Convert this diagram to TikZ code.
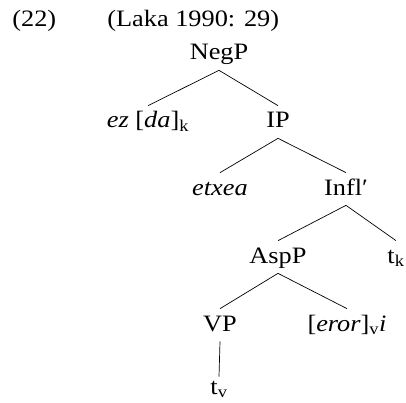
\documentclass[tikz,border=0pt]{standalone}
\usepackage{fontspec}
\setmainfont{Liberation Serif}[FakeStretch=1.12]
\begin{document}
\begin{tikzpicture}[x=1pt,y=-1pt,font=\fontsize{23.5}{28}\selectfont,line width=0.7pt,
  cat/.style={anchor=base,inner xsep=0pt,inner ysep=5pt,text height=17pt,text depth=5pt}]
\useasboundingbox (0,0) rectangle (406,403);
% heading
\node (exno) [anchor=base west,inner sep=0pt] at (12,27) {(22)};
\node (src) [anchor=base west,inner sep=0pt] at (107,27) {(Laka 1990: 29)};
% tree
\node (negp) [cat] at (219,60) {NegP};
\node (ezda) [cat] at (148,128) {\textit{ez} [\textit{da}]\textsubscript{k}};
\node (ip) [cat] at (278,128) {IP};
\node (etxea) [cat] at (220,195) {\textit{etxea}};
\node (infl) [cat] at (346,195) {Infl′};
\node (aspp) [cat] at (278,263) {AspP};
\node (tk) [cat] at (396,263) {t\textsubscript{k}};
\node (vp) [cat] at (220,331) {VP};
\node (eror) [cat] at (347,331) {[\textit{eror}]\textsubscript{v}\textit{i}};
\node (tv) [cat,text height=12pt] at (219,394) {t\textsubscript{v}};
\draw (negp.south) -- (ezda.north);
\draw (negp.south) -- (ip.north);
\draw (ip.south) -- (etxea.north);
\draw (ip.south) -- (infl.north);
\draw (infl.south) -- (aspp.north);
\draw (infl.south) -- (tk.north);
\draw (aspp.south) -- (vp.north);
\draw (aspp.south) -- (eror.north);
\draw (vp.south) -- (tv.north);
\end{tikzpicture}
\end{document}
